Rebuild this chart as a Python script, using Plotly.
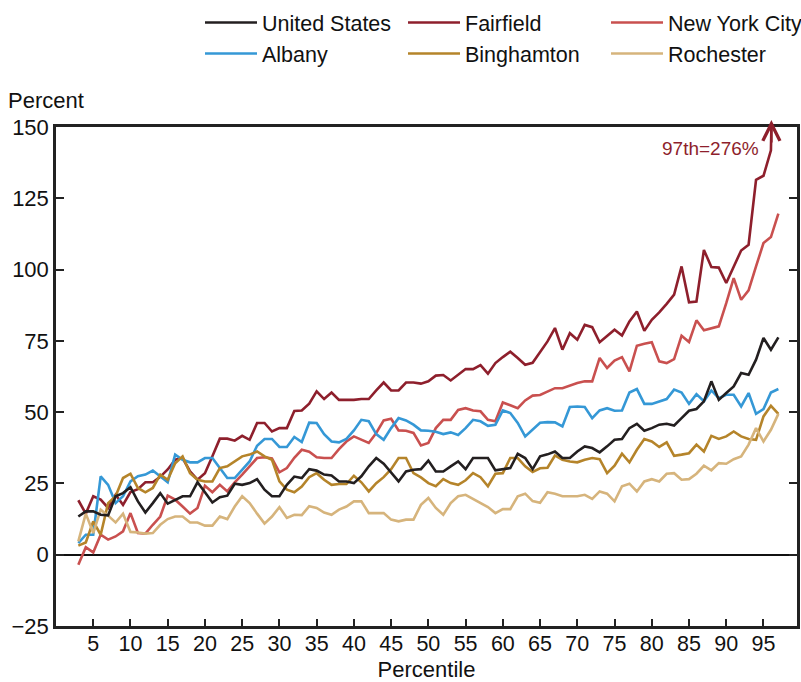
import plotly.graph_objects as go

# Percentiles 3..97
percentile = list(range(3, 98))

united_states = [
    13.4, 15.2, 15.2, 14.0, 13.8, 20.5, 21.6, 23.7, 18.7, 14.8, 18.1, 21.6, 17.9, 19.3, 20.5, 20.5,
    25.4, 21.9, 18.3, 20.2, 20.7, 24.9, 24.5, 25.1, 26.5, 22.8, 20.5, 20.5, 24.5, 27.4, 26.9, 30.0,
    29.5, 28.1, 27.8, 25.7, 25.7, 25.1, 27.5, 31.0, 33.9, 31.9, 28.6, 25.7, 29.2, 29.8, 30.0, 33.0,
    29.2, 29.2, 31.0, 32.7, 30.0, 33.9, 33.9, 33.9, 29.6, 30.0, 30.4, 35.4, 33.9, 30.0, 34.5, 35.2,
    36.2, 33.9, 33.9, 36.2, 38.0, 37.4, 35.9, 38.0, 40.3, 40.6, 44.4, 45.9, 43.5, 44.4, 45.6, 45.9,
    45.3, 47.9, 50.5, 51.1, 53.8, 60.8, 54.3, 56.7, 59.0, 63.7, 63.1, 68.4, 76.0, 71.9, 76.2,
]

fairfield = [
    19.1, 14.4, 20.5, 19.3, 16.4, 21.0, 17.5, 22.0, 23.0, 25.4, 25.4, 27.3, 29.9, 33.3, 33.9, 29.2,
    26.3, 28.6, 34.5, 40.7, 40.7, 40.0, 41.7, 40.3, 46.2, 46.2, 43.2, 44.4, 44.4, 50.4, 50.6, 53.0,
    57.3, 54.6, 56.9, 54.3, 54.3, 54.3, 54.6, 54.6, 57.6, 60.4, 57.6, 57.6, 60.4, 60.4, 60.0, 60.8,
    62.8, 63.0, 61.1, 63.1, 65.1, 65.1, 66.5, 63.5, 67.2, 69.3, 71.2, 69.0, 66.6, 67.3, 71.0, 74.8,
    79.5, 71.9, 77.7, 75.4, 80.6, 79.8, 74.5, 76.6, 78.9, 76.9, 81.8, 85.3, 78.5, 82.4, 85.0, 88.0,
    91.2, 101.1, 88.5, 88.8, 106.9, 100.9, 100.7, 95.3, 101.1, 106.7, 108.7, 131.5, 132.9, 141.8, 276.0,
]

new_york_city = [
    -3.5, 2.6, 0.8, 7.0, 5.3, 6.4, 8.2, 14.6, 7.6, 7.4, 10.5, 13.4, 20.7, 19.3, 16.9, 14.4,
    16.4, 24.2, 21.9, 24.5, 22.2, 25.4, 28.1, 31.2, 33.9, 34.2, 33.8, 28.9, 30.4, 34.0, 36.8, 36.1,
    34.2, 33.9, 33.9, 37.0, 39.7, 41.5, 40.3, 39.2, 42.7, 47.1, 47.7, 43.6, 43.5, 42.7, 38.3, 39.2,
    44.4, 47.3, 47.3, 50.8, 51.4, 50.6, 50.3, 47.3, 46.8, 53.4, 52.4, 51.4, 54.1, 55.8, 56.0, 57.2,
    58.4, 58.4, 59.3, 60.2, 60.8, 60.8, 69.0, 65.5, 68.1, 69.3, 64.3, 73.3, 74.0, 74.5, 67.8, 67.2,
    68.6, 76.8, 74.6, 82.2, 78.7, 79.5, 80.1, 88.2, 97.0, 89.4, 92.7, 101.1, 109.3, 111.4, 119.6,
]

albany = [
    4.1, 7.0, 7.0, 27.5, 24.5, 18.1, 20.5, 25.7, 27.5, 28.1, 29.5, 27.5, 25.4, 35.1, 33.3, 32.4,
    32.4, 33.9, 33.9, 30.4, 26.9, 26.9, 29.8, 32.7, 38.2, 40.6, 40.6, 37.8, 37.8, 41.3, 39.5, 46.3,
    46.2, 42.3, 39.7, 39.4, 40.6, 43.6, 47.3, 46.8, 42.3, 40.3, 44.4, 47.9, 47.1, 45.6, 43.6, 43.5,
    43.1, 42.3, 42.9, 42.0, 44.4, 47.3, 46.8, 45.2, 45.6, 50.6, 49.7, 46.2, 41.5, 44.0, 46.3, 46.5,
    46.4, 45.0, 51.8, 52.0, 51.8, 47.9, 50.6, 51.4, 50.5, 50.6, 56.9, 58.1, 52.9, 52.9, 53.8, 54.6,
    57.9, 56.9, 52.9, 56.3, 53.8, 57.6, 54.9, 56.1, 56.1, 52.0, 56.7, 49.4, 51.1, 56.9, 58.1,
]

binghamton = [
    3.2, 4.3, 11.7, 7.0, 18.1, 20.5, 26.9, 28.4, 23.4, 21.9, 23.4, 28.1, 26.3, 32.1, 34.5, 28.6,
    26.3, 25.7, 25.7, 30.4, 31.0, 32.7, 34.5, 35.1, 36.2, 34.5, 33.3, 25.7, 22.8, 21.9, 23.9, 27.2,
    28.6, 26.3, 24.5, 24.8, 24.8, 27.7, 25.4, 22.2, 25.1, 27.2, 30.0, 33.9, 33.9, 28.6, 27.1, 25.1,
    24.0, 26.5, 25.1, 24.5, 26.1, 28.6, 27.2, 24.0, 28.4, 28.6, 33.9, 33.9, 31.0, 29.0, 30.3, 30.5,
    34.8, 33.3, 32.7, 32.4, 33.3, 33.9, 33.5, 28.6, 31.2, 35.4, 32.4, 36.8, 40.6, 39.7, 37.8, 39.4,
    34.7, 35.1, 35.6, 38.6, 36.2, 41.7, 40.6, 41.5, 43.2, 41.5, 40.6, 40.3, 48.5, 52.2, 49.4,
]

rochester = [
    4.7, 14.4, 7.6, 15.8, 13.7, 11.3, 14.4, 8.0, 7.8, 7.4, 7.6, 10.5, 12.5, 13.4, 13.4, 11.3,
    11.3, 10.2, 10.2, 13.4, 12.5, 16.9, 20.5, 18.1, 14.4, 10.9, 13.4, 16.7, 12.9, 14.0, 13.9, 17.0,
    16.4, 14.8, 14.0, 15.8, 16.9, 18.7, 18.7, 14.6, 14.6, 14.6, 12.3, 11.7, 12.3, 12.3, 17.5, 19.9,
    16.4, 14.0, 18.1, 20.5, 21.0, 19.5, 18.1, 16.7, 14.6, 16.0, 16.0, 20.5, 21.4, 18.8, 18.2, 21.9,
    21.4, 20.5, 20.5, 20.5, 21.0, 19.6, 22.2, 21.4, 18.7, 24.0, 24.9, 22.2, 25.7, 26.5, 25.7, 28.4,
    28.6, 26.3, 26.5, 28.4, 31.2, 29.6, 32.1, 31.9, 33.5, 34.5, 38.6, 44.4, 39.7, 43.8, 49.4,
]

series = [
    ("United States", united_states, "#231f20"),
    ("Fairfield", fairfield, "#8e1f2c"),
    ("New York City", new_york_city, "#c9504f"),
    ("Albany", albany, "#3598d6"),
    ("Binghamton", binghamton, "#b5842a"),
    ("Rochester", rochester, "#d6b47c"),
]

y_min, y_max = -25, 150
x_min, x_max = 0, 99.5
x_ticks = list(range(5, 100, 5))
y_ticks = [-25, 0, 25, 50, 75, 100, 125, 150]

FONT = "Liberation Sans, Arial, sans-serif"
PLOT_L, PLOT_R, PLOT_T, PLOT_B = 56, 4, 127, 56
W, H = 801, 682
plot_w = W - PLOT_L - PLOT_R
plot_h = H - PLOT_T - PLOT_B


def paper_y(px):
    """Convert a pixel row (from the top of the page) to paper y."""
    return 1 + (PLOT_T - px) / plot_h


fig = go.Figure()
# draw the US line last so it sits on top of the regional lines
order = [1, 2, 3, 4, 5, 0]
for i in order:
    name, vals, color = series[i]
    fig.add_trace(go.Scatter(
        x=percentile, y=vals, name=name, mode="lines",
        line=dict(color=color, width=2.6),
        legendrank=i + 1,
    ))

# Fairfield's 97th percentile runs off the top of the axis: mark it with an arrow
x_prev, y_prev = percentile[-2], fairfield[-2]
x_last, y_last = percentile[-1], fairfield[-1]
x_cross = x_prev + (y_max - y_prev) / (y_last - y_prev) * (x_last - x_prev)
fig.add_annotation(
    x=x_cross, y=paper_y(120), xref="x", yref="paper",
    ax=0, ay=24, text="", showarrow=True,
    arrowhead=5, arrowsize=1.4, arrowwidth=2.4, arrowcolor="#8e1f2c",
)
fig.add_annotation(
    x=x_prev - 1.4, y=142.5, xref="x", yref="y",
    text=f"{x_last}th={y_last:.0f}%", showarrow=False,
    xanchor="right", yanchor="middle",
    font=dict(family=FONT, size=19, color="#8e1f2c"),
)

# axis caption above the y axis
fig.add_annotation(
    x=(6 - PLOT_L) / plot_w, y=paper_y(101),
    xref="paper", yref="paper",
    text="Percent", showarrow=False, xanchor="left", yanchor="middle",
    font=dict(family=FONT, size=22, color="#111"),
)

fig.update_layout(
    width=W, height=H,
    margin=dict(l=PLOT_L, r=PLOT_R, t=PLOT_T, b=PLOT_B, autoexpand=False),
    paper_bgcolor="white", plot_bgcolor="white",
    font=dict(family=FONT, size=22, color="#111"),
    showlegend=True,
    legend=dict(
        orientation="h", x=(200 - PLOT_L) / plot_w, y=paper_y(2),
        xanchor="left", yanchor="top",
        entrywidth=136, entrywidthmode="pixels",
        font=dict(family=FONT, size=21.5, color="#111"),
        traceorder="normal", tracegroupgap=0, itemwidth=52,
    ),
)

fig.update_xaxes(
    range=[x_min, x_max], tickvals=x_ticks, ticktext=[str(v) for v in x_ticks],
    ticks="inside", ticklen=7, tickwidth=2, tickcolor="#222",
    showline=True, linecolor="#222", linewidth=2.5, mirror=True,
    showgrid=False, zeroline=False,
    ticklabelstandoff=-4,
    title=dict(text="Percentile", font=dict(family=FONT, size=22), standoff=17),
    tickfont=dict(family=FONT, size=21.5),
)
fig.update_yaxes(
    range=[y_min, y_max], tickvals=y_ticks,
    ticks="inside", ticklen=8, tickwidth=2, tickcolor="#222",
    showline=True, linecolor="#222", linewidth=2.5, mirror="ticks",
    showgrid=False, zeroline=True, zerolinecolor="#111", zerolinewidth=2.2,
    tickfont=dict(family=FONT, size=22),
)

fig.write_html("out.html")
